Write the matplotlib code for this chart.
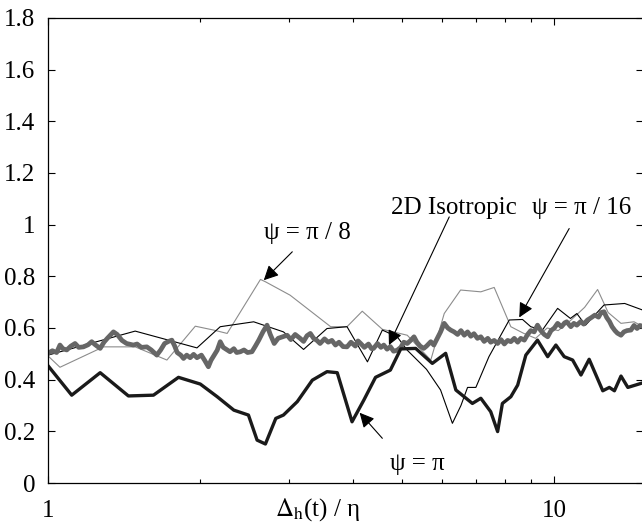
import matplotlib.pyplot as plt
from matplotlib.ticker import FixedLocator, LogLocator, NullFormatter

plt.rcParams['font.family'] = ['Liberation Serif', 'DejaVu Serif']
plt.rcParams['mathtext.fontset'] = 'stix'
plt.rcParams['font.size'] = 18

# psi = pi (thick black)
pi_x = [1.00, 1.114, 1.268, 1.442, 1.616, 1.811, 2.00, 2.16, 2.33, 2.49, 2.59, 2.69,
        2.82, 2.92, 3.11, 3.33, 3.56, 3.73, 3.99, 4.21, 4.44, 4.75, 4.98, 5.33,
        5.75, 6.11, 6.40, 6.90, 7.17, 7.50, 7.74, 7.91, 8.22, 8.48, 8.80, 9.28,
        9.72, 10.09, 10.48, 10.89, 11.31, 11.74, 12.49, 12.87, 13.17, 13.57, 14.0, 15.0]
pi_y = [0.454, 0.340, 0.427, 0.337, 0.340, 0.409, 0.383, 0.334, 0.282, 0.263, 0.166, 0.151,
        0.250, 0.263, 0.315, 0.398, 0.431, 0.427, 0.237, 0.321, 0.409, 0.437, 0.519, 0.521,
        0.463, 0.502, 0.360, 0.308, 0.328, 0.276, 0.199, 0.308, 0.334, 0.379, 0.495, 0.553,
        0.489, 0.534, 0.489, 0.476, 0.418, 0.479, 0.357, 0.370, 0.357, 0.414, 0.370, 0.388]

# psi = pi / 16 (thin black)
p16_x = [1.00, 1.487, 1.97, 2.19, 2.55, 2.92, 3.20, 3.56, 3.90, 4.28, 4.58, 4.90, 5.13,
         5.60, 5.97, 6.30, 6.55, 6.75, 7.01, 7.44, 8.16, 8.67, 9.00, 9.49, 10.17, 10.78,
         11.1, 11.55, 12.56, 13.8, 15.0]
p16_y = [0.495, 0.588, 0.523, 0.605, 0.624, 0.585, 0.517, 0.598, 0.605, 0.469, 0.592, 0.566, 0.514,
         0.440, 0.360, 0.231, 0.300, 0.370, 0.370, 0.489, 0.631, 0.633, 0.605, 0.592, 0.676, 0.637,
         0.656, 0.611, 0.689, 0.695, 0.669]

# psi = pi / 8 (thin gray)
p8_x = [1.00, 1.056, 1.287, 1.487, 1.718, 1.955, 2.125, 2.26, 2.63, 2.69, 3.01, 3.62, 3.90,
        4.18, 4.58, 5.13, 5.71, 6.07, 6.54, 7.17, 7.62, 8.22, 8.70, 9.20, 9.70, 10.2, 10.8,
        11.5, 12.2, 12.8, 13.57, 14.4, 15.0]
p8_y = [0.492, 0.448, 0.527, 0.527, 0.476, 0.607, 0.592, 0.579, 0.788, 0.779, 0.727, 0.605, 0.605,
        0.665, 0.595, 0.572, 0.476, 0.656, 0.747, 0.740, 0.757, 0.605, 0.580, 0.560, 0.600, 0.590, 0.630,
        0.680, 0.749, 0.660, 0.618, 0.624, 0.605]

# 2D isotropic (thick gray)
iso_x = [1.00, 1.02, 1.04, 1.056, 1.07, 1.089, 1.11, 1.131, 1.15, 1.175, 1.20, 1.22, 1.24,
         1.268, 1.29, 1.31, 1.347, 1.37, 1.40, 1.43, 1.475, 1.50, 1.53, 1.568, 1.60, 1.641,
         1.67, 1.70, 1.73, 1.757, 1.78, 1.80, 1.83, 1.853, 1.88, 1.91, 1.94, 1.97, 2.01, 2.04,
         2.075, 2.10, 2.13, 2.16, 2.19, 2.22, 2.26, 2.29, 2.33, 2.36, 2.40, 2.44, 2.48, 2.53,
         2.57, 2.61, 2.66, 2.71, 2.75, 2.80, 2.85, 2.90, 2.97, 3.02, 3.08, 3.15, 3.20, 3.25,
         3.30, 3.35, 3.40, 3.45, 3.52, 3.58, 3.64, 3.70, 3.76, 3.83, 3.90, 3.97, 4.05, 4.10,
         4.15, 4.22, 4.30, 4.36, 4.40, 4.48, 4.55, 4.61, 4.68, 4.75, 4.82, 4.90, 4.98, 5.05,
         5.13, 5.21, 5.29, 5.36, 5.44, 5.53, 5.60, 5.71, 5.79, 5.88, 5.97, 6.07, 6.17, 6.25,
         6.35, 6.45, 6.55, 6.65, 6.75, 6.85, 6.95, 7.06, 7.17, 7.28, 7.40, 7.50, 7.62, 7.74,
         7.86, 7.98, 8.10, 8.22, 8.35, 8.48, 8.60, 8.74, 8.87, 9.00, 9.14, 9.28, 9.42, 9.57,
         9.72, 9.87, 10.02, 10.17, 10.35, 10.50, 10.6, 10.8, 10.95, 11.1, 11.3, 11.45, 11.65,
         11.85, 12.05, 12.25, 12.40, 12.56, 12.72, 12.88, 13.03, 13.2, 13.35, 13.57, 13.75,
         13.95, 14.2, 14.4, 14.6, 14.8, 15.0]
iso_y = [0.502, 0.512, 0.505, 0.534, 0.520, 0.515, 0.530, 0.540, 0.525, 0.527, 0.535, 0.547, 0.535,
         0.521, 0.545, 0.560, 0.585, 0.575, 0.552, 0.540, 0.534, 0.538, 0.525, 0.527, 0.515, 0.495,
         0.515, 0.540, 0.548, 0.553, 0.530, 0.505, 0.495, 0.482, 0.495, 0.485, 0.498, 0.485, 0.495, 0.475,
         0.450, 0.475, 0.495, 0.514, 0.547, 0.525, 0.515, 0.508, 0.520, 0.505, 0.508, 0.515, 0.505, 0.508,
         0.530, 0.553, 0.585, 0.611, 0.575, 0.540, 0.560, 0.565, 0.572, 0.555, 0.575, 0.560, 0.548, 0.570,
         0.579, 0.560, 0.552, 0.540, 0.558, 0.545, 0.552, 0.534, 0.545, 0.528, 0.527, 0.545, 0.530, 0.550,
         0.540, 0.525, 0.538, 0.520, 0.521, 0.540, 0.525, 0.534, 0.518, 0.528, 0.510, 0.514, 0.525, 0.545,
         0.540, 0.552, 0.566, 0.545, 0.530, 0.521, 0.530, 0.547, 0.534, 0.560, 0.585, 0.618, 0.600, 0.592,
         0.585, 0.575, 0.590, 0.572, 0.585, 0.568, 0.578, 0.560, 0.566, 0.548, 0.560, 0.545, 0.552, 0.540,
         0.555, 0.538, 0.552, 0.547, 0.560, 0.545, 0.560, 0.553, 0.575, 0.590, 0.585, 0.611, 0.590, 0.575,
         0.566, 0.590, 0.600, 0.618, 0.605, 0.620, 0.624, 0.605, 0.618, 0.611, 0.625, 0.615, 0.631,
         0.640, 0.650, 0.642, 0.660, 0.663, 0.640, 0.625, 0.605, 0.590, 0.580, 0.572, 0.585,
         0.590, 0.592, 0.610, 0.598, 0.610, 0.605]

y_ticks = [0, 0.2, 0.4, 0.6, 0.8, 1.0, 1.2, 1.4, 1.6, 1.8]
y_labels = ['0', '0.2', '0.4', '0.6', '0.8', '1', '1.2', '1.4', '1.6', '1.8']

fig = plt.figure(figsize=(6.42, 5.23), dpi=100)
ax = fig.add_axes([48 / 642, 40 / 523, 595 / 642, 465 / 523])

ax.plot(p8_x, p8_y, color='#8c8c8c', lw=0.8)
ax.plot(p16_x, p16_y, color='black', lw=0.8)
ax.plot(iso_x, iso_y, color='#666666', lw=3.4, solid_joinstyle='round')
ax.plot(pi_x, pi_y, color='#1a1a1a', lw=2.4)

ax.set_xscale('log')
ax.set_xlim(1, 15)
ax.set_ylim(0, 1.8)
ax.xaxis.set_major_locator(FixedLocator([1, 10]))
ax.xaxis.set_major_formatter(plt.FixedFormatter(['1', '10']))
ax.xaxis.set_minor_locator(LogLocator(base=10, subs=range(2, 10)))
ax.xaxis.set_minor_formatter(NullFormatter())
ax.set_yticks(y_ticks)
ax.set_yticklabels(y_labels)
ax.tick_params(which='both', direction='in', top=True, right=True, width=0.8)
ax.tick_params(which='major', length=5)
ax.tick_params(which='minor', length=3)
ax.tick_params(axis='x', pad=12)
ax.tick_params(axis='y', pad=9)
for s in ax.spines.values():
    s.set_linewidth(0.9)

ax.set_xlabel(r'$\Delta_{\mathrm{h}}$(t) / η', va='center')
ax.xaxis.set_label_coords(0.453, -0.058)

arrow = dict(arrowstyle='-|>', color='black', lw=0.8, mutation_scale=22, shrinkA=0, shrinkB=0)
ax.text(3.25, 0.967, 'ψ = π / 8', ha='center', va='center')
ax.annotate('', xy=(2.67, 0.785), xytext=(3.04, 0.895), arrowprops=arrow)
ax.text(6.35, 1.064, '2D Isotropic', ha='center', va='center')
ax.annotate('', xy=(4.72, 0.534), xytext=(6.21, 1.03), arrowprops=arrow)
ax.text(11.35, 1.064, 'ψ = π / 16', ha='center', va='center')
ax.annotate('', xy=(8.54, 0.641), xytext=(10.72, 0.985), arrowprops=arrow)
ax.text(5.37, 0.0735, 'ψ = π', ha='center', va='center')
ax.annotate('', xy=(4.13, 0.272), xytext=(4.58, 0.173), arrowprops=arrow)

fig.savefig('out.png', dpi=100)
